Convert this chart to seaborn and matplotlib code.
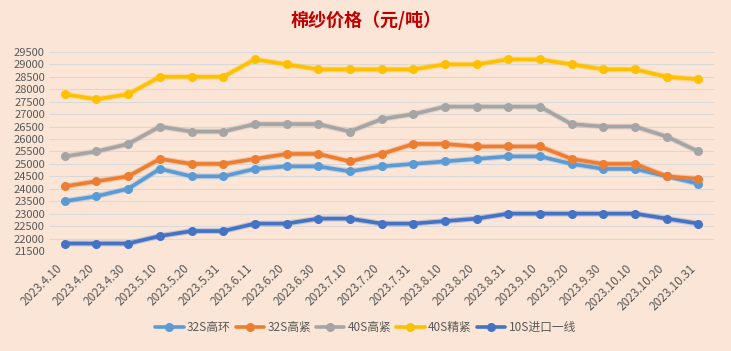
import numpy as np
import pandas as pd
import matplotlib
matplotlib.use('Agg')
import matplotlib.pyplot as plt
import matplotlib.patheffects as pe
import matplotlib.transforms as mtransforms
import seaborn as sns

# data
dates = ['2023.4.10', '2023.4.20', '2023.4.30', '2023.5.10', '2023.5.20', '2023.5.31',
         '2023.6.11', '2023.6.20', '2023.6.30', '2023.7.10', '2023.7.20', '2023.7.31',
         '2023.8.10', '2023.8.20', '2023.8.31', '2023.9.10', '2023.9.20', '2023.9.30',
         '2023.10.10', '2023.10.20', '2023.10.31']
s32_gh = [23500, 23700, 24000, 24800, 24500, 24500, 24800, 24900, 24900, 24700, 24900,
          25000, 25100, 25200, 25300, 25300, 25000, 24800, 24800, 24500, 24200]
s32_gj = [24100, 24300, 24500, 25200, 25000, 25000, 25200, 25400, 25400, 25100, 25400,
          25800, 25800, 25700, 25700, 25700, 25200, 25000, 25000, 24500, 24400]
s40_gj = [25300, 25500, 25800, 26500, 26300, 26300, 26600, 26600, 26600, 26300, 26800,
          27000, 27300, 27300, 27300, 27300, 26600, 26500, 26500, 26100, 25500]
s40_jj = [27800, 27600, 27800, 28500, 28500, 28500, 29200, 29000, 28800, 28800, 28800,
          28800, 29000, 29000, 29200, 29200, 29000, 28800, 28800, 28500, 28400]
s10_jk = [21800, 21800, 21800, 22100, 22300, 22300, 22600, 22600, 22800, 22800, 22600,
          22600, 22700, 22800, 23000, 23000, 23000, 23000, 23000, 22800, 22600]

series = {'32S高环': s32_gh, '32S高紧': s32_gj, '40S高紧': s40_gj,
          '40S精紧': s40_jj, '10S进口一线': s10_jk}
colors = ['#5B9BD5', '#ED7D31', '#A5A5A5', '#FFC000', '#4472C4']

rows = []
for name, vals in series.items():
    for i, v in enumerate(vals):
        rows.append({'idx': i, 'price': v, 'series': name})
df = pd.DataFrame(rows)

bg = '#FBE5D6'
sns.set_theme(style='white')
plt.rcParams['font.family'] = ['Noto Sans CJK SC', 'DejaVu Sans']

fig = plt.figure(figsize=(7.31, 3.51), dpi=100, facecolor=bg)
ax = fig.add_axes([0.067, 0.285, 0.910, 0.567])
ax.set_facecolor(bg)

sns.lineplot(data=df, x='idx', y='price', hue='series', palette=colors,
             marker='o', markersize=6.5, markeredgewidth=0, linewidth=2.6,
             ax=ax, legend=True)

# soft glow under the lines only (not the markers)
for line in list(ax.lines):
    x, y = line.get_data()
    ax.plot(x, y, color=line.get_color(), linewidth=4.2, alpha=0.3,
            solid_capstyle='round', zorder=line.get_zorder() - 0.1)

ax.set_xlim(-0.5, len(dates) - 0.5)
ax.set_ylim(21500, 29500)
ax.set_yticks(np.arange(21500, 29501, 500))
ax.yaxis.grid(True, color='#D9D9D9', linewidth=0.8)
ax.set_axisbelow(True)
for sp in ax.spines.values():
    sp.set_visible(False)
ax.set_xlabel('')
ax.set_ylabel('')
ax.set_xticks(range(len(dates)))
ax.set_xticklabels(dates, rotation=45, ha='right', fontsize=8.5, color='#595959')
offset = mtransforms.ScaledTranslation(-10 / 100, 0, fig.dpi_scale_trans)
for lab in ax.get_xticklabels():
    lab.set_transform(lab.get_transform() + offset)
ax.tick_params(axis='y', labelsize=8, labelcolor='#595959', length=0, pad=3)
ax.tick_params(axis='x', length=0, pad=8)

handles, labels = ax.get_legend_handles_labels()
ax.legend_.remove()
fig.legend(handles, labels, loc='center', bbox_to_anchor=(0.5, 0.068), ncol=5,
           frameon=False, fontsize=8.5, handlelength=2.4, columnspacing=0.4,
           handletextpad=0.3, labelcolor='#595959')

fig.text(0.5, 0.943, '棉纱价格（元/吨）', ha='center', va='center', fontsize=13,
         fontweight='bold', color='#C00000')

fig.savefig('out.png', dpi=100, facecolor=bg)
